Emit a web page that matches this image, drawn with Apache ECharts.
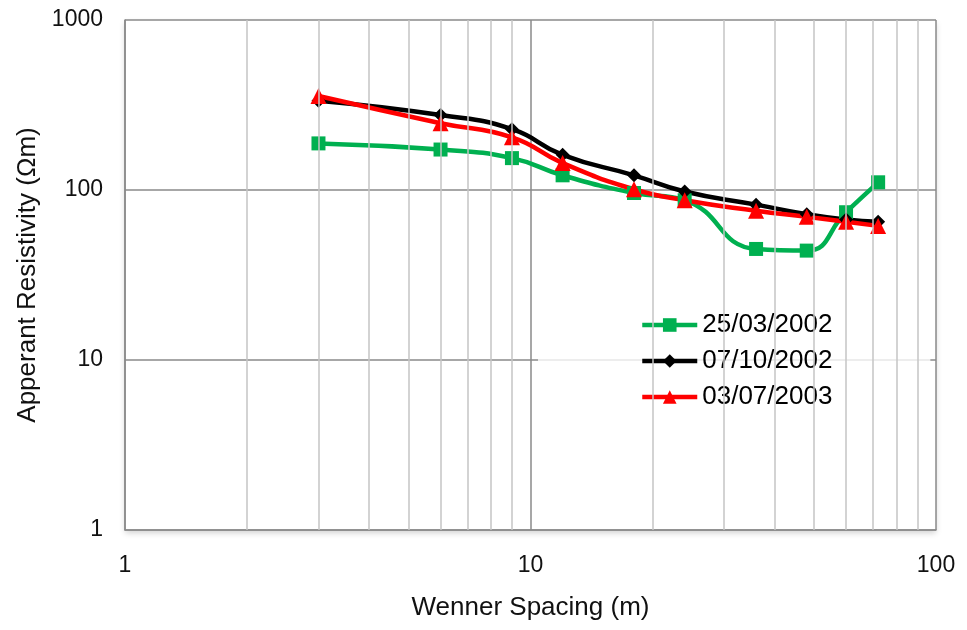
<!DOCTYPE html>
<html>
<head>
<meta charset="utf-8">
<script src="https://cdn.jsdelivr.net/npm/echarts@6/dist/echarts.min.js"></script>
<style>
  html, body { margin: 0; padding: 0; background: #fff; }
  #chart { width: 967px; height: 630px; }
</style>
</head>
<body>
<div id="chart"></div>
<script>
// Wenner spacing (m) of each sounding
const spacing = [3, 6, 9, 12, 18, 24, 36, 48, 60, 72];

// Apparent resistivity (Ohm·m) per survey date
const seriesNames = ['25/03/2002', '07/10/2002', '03/07/2003'];
const rho2002a = [188, 173, 154, 122, 96, 87, 45, 44, 74, 111];
const rho2002b = [335, 276, 228, 161, 122, 98, 82, 72, 67, 65];
const rho2003 = [357, 247, 204, 144, 101, 87, 75.5, 69.5, 65, 61.5];

// Intermediate log-decade positions for the light vertical grid
const minorX = [2, 3, 4, 5, 6, 7, 8, 9, 20, 30, 40, 50, 60, 70, 80, 90];

const pairs = (xs, ys) => xs.map((x, i) => [x, ys[i]]);

const font = 'Liberation Sans, Arial, sans-serif';
const textColor = '#111';
const majorGrid = '#8a8a8a';
const minorGrid = '#c4c4c4';

const chart = echarts.init(document.getElementById('chart'), null, { renderer: 'canvas' });

const lineSeries = (name, data, color, symbol, size) => ({
  name,
  type: 'line',
  data,
  smooth: 0.5,
  z: 3,
  symbol,
  symbolSize: size,
  showSymbol: true,
  itemStyle: { color },
  lineStyle: { color, width: 4.5 },
  emphasis: { disabled: true }
});

chart.setOption({
  animation: false,
  backgroundColor: '#fff',
  grid: {
    left: 125, right: 31, top: 20, bottom: 100,
    show: true,
    backgroundColor: '#fff',
    borderWidth: 0,
    shadowColor: 'rgba(0,0,0,0.18)',
    shadowBlur: 6,
    shadowOffsetY: 3
  },
  legend: {
    orient: 'vertical',
    left: 538,
    top: 303,
    padding: [9, 98, 8, 102],
    itemGap: 10,
    itemWidth: 55,
    itemHeight: 17,
    backgroundColor: 'rgba(255,255,255,0.8)',
    data: seriesNames,
    lineStyle: { width: 4.5 },
    textStyle: { fontFamily: font, fontSize: 26, color: '#000' }
  },
  xAxis: {
    type: 'log',
    logBase: 10,
    min: 1,
    max: 100,
    name: 'Wenner Spacing (m)',
    nameLocation: 'middle',
    nameGap: 65,
    nameTextStyle: { fontFamily: font, fontSize: 26, color: textColor },
    axisLine: { show: true, lineStyle: { color: majorGrid, width: 1.5 } },
    axisTick: { show: false },
    axisLabel: { fontFamily: font, fontSize: 23, color: textColor, margin: 24 },
    splitLine: { show: true, lineStyle: { color: majorGrid, width: 1.5 } }
  },
  yAxis: {
    type: 'log',
    logBase: 10,
    min: 1,
    max: 1000,
    name: 'Apperant Resistivity (Ωm)',
    nameLocation: 'middle',
    nameGap: 84,
    nameTextStyle: { fontFamily: font, fontSize: 26, color: textColor },
    axisLine: { show: true, lineStyle: { color: majorGrid, width: 1.5 } },
    axisTick: { show: false },
    axisLabel: {
      fontFamily: font, fontSize: 23, color: textColor, margin: 22,
      formatter: v => String(Math.round(v))
    },
    splitLine: { show: true, lineStyle: { color: majorGrid, width: 1.5 } }
  },
  series: [
    {
      name: 'minor-grid',
      type: 'line',
      data: [],
      z: 1,
      silent: true,
      markLine: {
        silent: true,
        symbol: ['none', 'none'],
        label: { show: false },
        lineStyle: { color: minorGrid, width: 1.5, type: 'solid' },
        emphasis: { disabled: true },
        data: minorX.map(v => ({ xAxis: v }))
      }
    },
    lineSeries(seriesNames[0], pairs(spacing, rho2002a), '#00b050', 'rect', 14),
    lineSeries(seriesNames[1], pairs(spacing, rho2002b), '#000000', 'diamond', 14),
    lineSeries(seriesNames[2], pairs(spacing, rho2003), '#ff0000', 'triangle', 16)
  ]
});
</script>
</body>
</html>
